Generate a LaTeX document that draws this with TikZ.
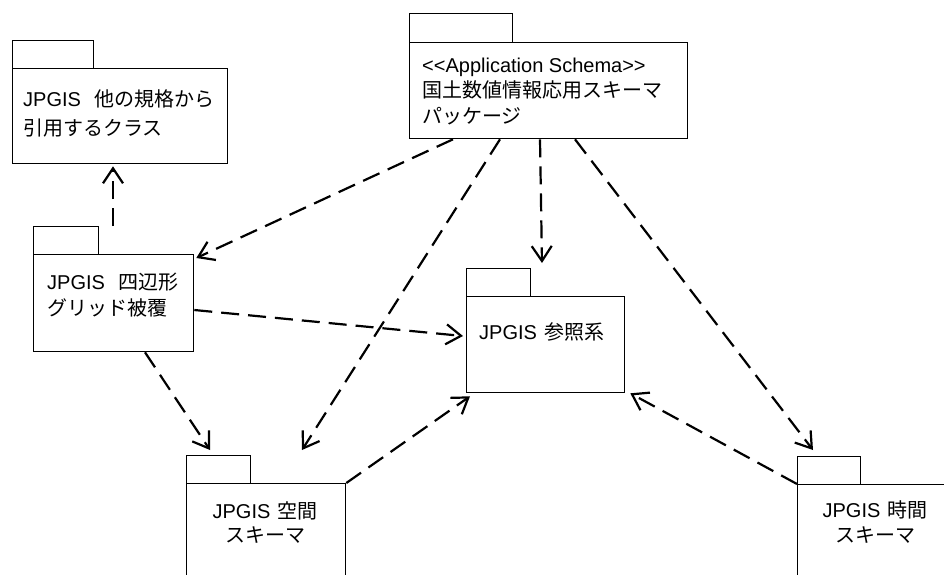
\documentclass[tikz,border=0pt]{standalone}
\usepackage{fontspec}
\setmainfont{Liberation Sans}
\newfontfamily\jp{Noto Sans CJK JP}
\usetikzlibrary{arrows.meta}
\tikzset{
  pkgbox/.style={draw=black, line width=1.3pt, rectangle, inner sep=0pt, anchor=north west, fill=white},
  dep/.style={draw=black, line width=2.2pt, dash pattern=on 18pt off 9pt, -{Straight Barb[length=15pt,width=20pt,line width=2.2pt]}},
  lbl/.style={inner sep=0pt, font=\fontsize{20}{24}\selectfont},
}
\begin{document}
\begin{tikzpicture}[x=1pt,y=-1pt]
\useasboundingbox (0,0) rectangle (944,574);
\begin{scope}
\clip (0,0) rectangle (944,574);
% packages
\node[pkgbox, minimum width=81pt, minimum height=28pt] (p1tab) at (12,40) {};
\node[pkgbox, minimum width=215pt, minimum height=95pt] (p1) at (12,68) {};
\node[pkgbox, minimum width=103pt, minimum height=29pt] (p2tab) at (409,13) {};
\node[pkgbox, minimum width=278pt, minimum height=96pt] (p2) at (409,42) {};
\node[pkgbox, minimum width=65pt, minimum height=28pt] (p3tab) at (33,226) {};
\node[pkgbox, minimum width=160pt, minimum height=97pt] (p3) at (33,254) {};
\node[pkgbox, minimum width=64pt, minimum height=28pt] (p4tab) at (466,268) {};
\node[pkgbox, minimum width=158pt, minimum height=96pt] (p4) at (466,296) {};
\node[pkgbox, minimum width=64pt, minimum height=28pt] (p5tab) at (186,455) {};
\node[pkgbox, minimum width=159pt, minimum height=110pt] (p5) at (186,483) {};
\node[pkgbox, minimum width=63pt, minimum height=28pt] (p6tab) at (797,456) {};
\node[pkgbox, minimum width=160pt, minimum height=110pt] (p6) at (797,484) {};
% labels
\node[lbl, anchor=base west] (t1a) at (23,106.4) {JPGIS\hspace{14pt}{\jp 他の規格から}};
\node[lbl, anchor=base west] (t1b) at (23,135) {\jp 引用するクラス};
\node[lbl, anchor=base west] (t2a) at (422,72) {<\kern0pt<Application Schema>\kern0pt>};
\node[lbl, anchor=base west] (t2b) at (422,97.4) {\jp 国土数値情報応用スキーマ};
\node[lbl, anchor=base west] (t2c) at (422,123.4) {\jp パッケージ};
\node[lbl, anchor=base west] (t3a) at (47,289) {JPGIS\hspace{14pt}{\jp 四辺形}};
\node[lbl, anchor=base west] (t3b) at (47,315) {\jp グリッド被覆};
\node[lbl, anchor=base west] (t4a) at (479,339.4) {JPGIS\hspace{7pt}{\jp 参照系}};
\node[lbl, anchor=base] (t5a) at (265,518) {JPGIS\hspace{7pt}{\jp 空間}};
\node[lbl, anchor=base] (t5b) at (265,542.4) {\jp スキーマ};
\node[lbl, anchor=base] (t6a) at (875,517.4) {JPGIS\hspace{7pt}{\jp 時間}};
\node[lbl, anchor=base] (t6b) at (875,542.4) {\jp スキーマ};
% dependencies
\draw[dep] ([xshift=80]p3tab.north west) -- ([shift={(101,2)}]p1.south west);
\draw[dep] ([xshift=44]p2.south west) -- ([shift={(2,4)}]p3.north east);
\draw[dep] ([xshift=91]p2.south west) -- ([shift={(116,-33)}]p5.north west);
\draw[dep] ([xshift=131]p2.south west) -- ([shift={(76,-5)}]p4tab.north west);
\draw[dep] ([xshift=166]p2.south west) -- ([shift={(16,-6)}]p6tab.north west);
\draw[dep] (p6.north west) -- ([shift={(5,0)}]p4.south east);
\draw[dep] ([shift={(0,56)}]p3.north east) -- ([shift={(-3,40)}]p4.north west);
\draw[dep] ([xshift=112]p3.south west) -- ([shift={(24,-5)}]p5tab.north west);
\draw[dep] (p5.north east) -- ([shift={(4,3)}]p4.south west);
\end{scope}
\end{tikzpicture}
\end{document}
